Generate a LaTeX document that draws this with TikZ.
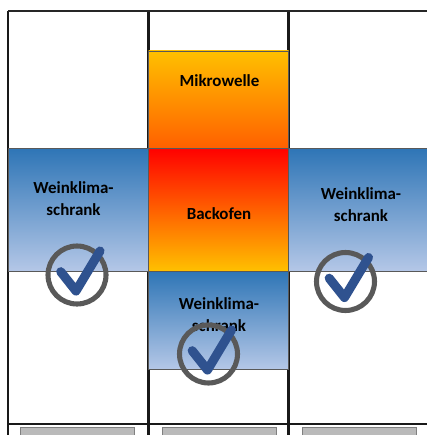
\documentclass[tikz,border=0pt]{standalone}
\usepackage{fontspec}
\setmainfont{Carlito}
\usetikzlibrary{positioning}
\definecolor{winetop}{HTML}{2E75B6}
\definecolor{winebot}{HTML}{B4C7E7}
\definecolor{amber}{HTML}{FFC000}
\definecolor{hotorange}{HTML}{FF6000}
\definecolor{tickblue}{HTML}{2F528F}
\definecolor{ringgray}{HTML}{595959}

\begin{document}
\begin{tikzpicture}[
  x=0.75pt, y=-0.75pt,
  font=\bfseries\fontsize{12.7}{13}\selectfont,
  node distance=0pt,
  box/.style={draw=black!65, line width=0.45pt, outer sep=0pt, inner sep=0pt, minimum width=105pt},
  micro/.style={box, minimum height=72.75pt, top color=amber, bottom color=hotorange},
  oven/.style={box, minimum height=92.25pt, top color=red, bottom color=amber},
  wine/.style={box, minimum height=92.25pt, top color=winetop, bottom color=winebot},
  winelow/.style={wine, minimum height=73.5pt},
  txt/.style={align=center, text=black, inner sep=0pt},
  grid/.style={line width=1.9pt, black!90},
  topline/.style={line width=1.2pt, black!85},
  handle/.style={draw=black!50, line width=0.6pt, fill=black!27},
  ring/.style={circle, draw=ringgray, line width=3.8pt, minimum size=43.5pt, inner sep=0pt},
  tick/.style={tickblue, line width=6.8pt, line cap=round, line join=round}
]
\useasboundingbox (0,0) rectangle (427,435);

% cabinet grid
\draw[grid] (8,11) -- (8,437);
\draw[grid] (148.5,11) -- (148.5,437);
\draw[grid] (288.5,11) -- (288.5,437);
\draw[grid] (8,424) -- (429,424);
\draw[topline] (8,11) -- (429,11);

% handles
\foreach \hx/\hw in {20/114, 162/114, 302.5/114}
  \draw[handle] (\hx,427.5) rectangle ++(\hw,10);

% appliances
\node[oven] (backofen) at (218.5,209.5) {};
\node[micro, above=of backofen] (mikrowelle) {};
\node[wine, left=of backofen] (weinlinks) {};
\node[wine, right=of backofen, minimum width=104pt] (weinrechts) {};
\node[winelow, below=of backofen] (weinunten) {};

\node[txt] (tmikro) at (219.5,80.5) {Mikrowelle};
\node[txt] (tofen) at (219,213.5) {Backofen};
\node[txt] (tlinks) at (73.5,198.5) {Weinklima-\\[3.5pt]schrank};
\node[txt] (trechts) at (361,204.5) {Weinklima-\\[3.5pt]schrank};
\node[txt] (tunten) at (219,314.5) {Weinklima-\\[3.5pt]schrank};

% checks
\foreach \cname/\cx/\cy in {checka/77/275, checkb/345.5/281.5, checkc/208.5/354} {
  \node[ring] (\cname) at (\cx,\cy) {};
  \draw[tick] ([shift={(-16.3,-3.3)}]\cname.center) -- ([shift={(-1,16)}]\cname.center) -- ([shift={(23,-24)}]\cname.center);
}
\end{tikzpicture}
\end{document}
